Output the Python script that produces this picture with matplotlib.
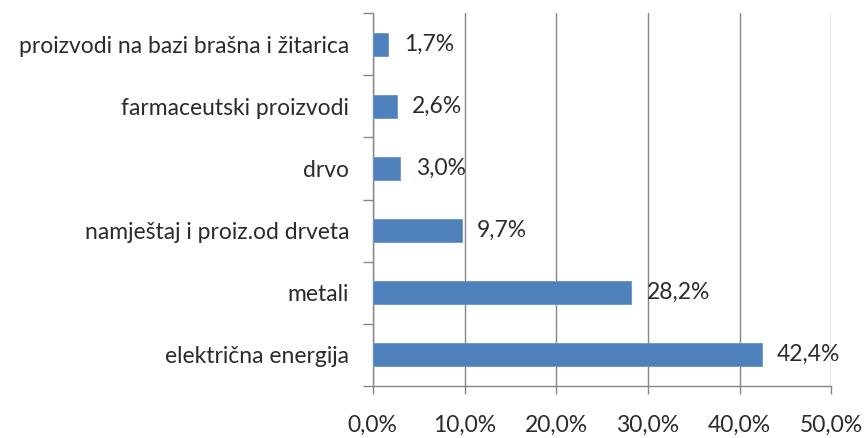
import matplotlib.pyplot as plt
from matplotlib.ticker import FixedLocator

# podaci (odozdo prema gore)
kategorije = ["električna energija", "metali", "namještaj i proiz.od drveta",
              "drvo", "farmaceutski proizvodi", "proizvodi na bazi brašna i žitarica"]
udjeli = [42.4, 28.2, 9.7, 3.0, 2.6, 1.7]
x_tickovi = [0, 10, 20, 30, 40, 50]

plt.rcParams['font.family'] = ['Lato', 'DejaVu Sans']

fig = plt.figure(figsize=(8.67, 4.38), dpi=100)
ax = fig.add_axes([0.430, 0.119, 0.529, 0.851])

boja_teksta = '#2b2b2b'
siva = '#868686'
fs = 16.5

y = list(range(len(kategorije)))
ax.barh(y, udjeli, height=0.365, color='#4F81BD', edgecolor='#6A94C8',
        linewidth=0.6, zorder=3)

for yi, v in zip(y, udjeli):
    ax.annotate(f"{v:.1f}%".replace('.', ','), xy=(v, yi), xytext=(11, 0),
                textcoords='offset points', va='center', ha='left',
                fontsize=fs, color=boja_teksta)

ax.set_xlim(0, 50)
ax.set_ylim(-0.5, len(kategorije) - 0.5)

ax.set_xticks(x_tickovi)
ax.set_xticklabels([f"{t:.1f}%".replace('.', ',') for t in x_tickovi],
                   fontsize=fs, color=boja_teksta)
ax.tick_params(axis='x', length=6, width=1, color=siva, pad=15)

# kategorije bez tick oznaka, tickovi na granicama
ax.set_yticks(y)
ax.set_yticklabels(kategorije, fontsize=fs, color=boja_teksta)
ax.tick_params(axis='y', which='major', length=0, pad=17)
ax.yaxis.set_minor_locator(FixedLocator([i - 0.5 for i in range(len(kategorije) + 1)]))
ax.tick_params(axis='y', which='minor', length=7, width=1, color=siva)

ax.grid(axis='x', color=siva, linewidth=1, zorder=0)
for s in ['top', 'right']:
    ax.spines[s].set_visible(False)
for s in ['left', 'bottom']:
    ax.spines[s].set_color(siva)
    ax.spines[s].set_linewidth(1)

fig.savefig('out.png', dpi=100)
